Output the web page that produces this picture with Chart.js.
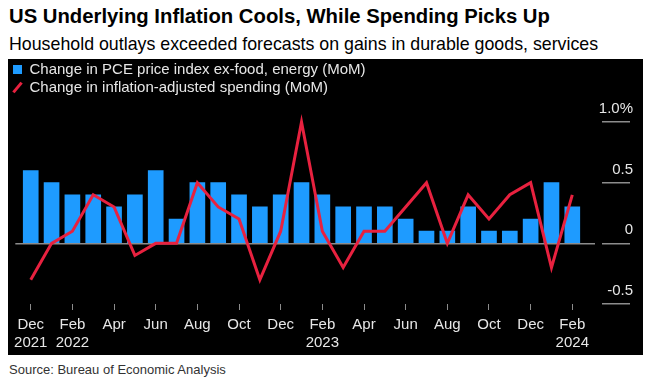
<!DOCTYPE html>
<html>
<head>
<meta charset="utf-8">
<script src="https://cdn.jsdelivr.net/npm/chart.js@4"></script>
<style>
  html, body { margin: 0; padding: 0; background: #fff; }
  body { width: 651px; height: 386px; position: relative; font-family: "Liberation Sans", Arial, sans-serif; }
  #title { position: absolute; left: 9px; top: 5px; font-size: 20.3px; font-weight: bold; color: #000; white-space: nowrap; }
  #subtitle { position: absolute; left: 9px; top: 34px; font-size: 17.8px; color: #000; white-space: nowrap; }
  #panel { position: absolute; left: 8px; top: 59px; width: 635px; height: 296px; background: #000; }
  #source { position: absolute; left: 9px; top: 362px; font-size: 13px; color: #333; white-space: nowrap; }
</style>
</head>
<body>
<div id="title">US Underlying Inflation Cools, While Spending Picks Up</div>
<div id="subtitle">Household outlays exceeded forecasts on gains in durable goods, services</div>
<div id="panel"><canvas id="pce" width="635" height="296"></canvas></div>
<div id="source">Source: Bureau of Economic Analysis</div>
<script>
const MONTHS = ['Dec 2021', 'Jan 2022', 'Feb 2022', 'Mar 2022', 'Apr 2022', 'May 2022', 'Jun 2022', 'Jul 2022',
  'Aug 2022', 'Sep 2022', 'Oct 2022', 'Nov 2022', 'Dec 2022', 'Jan 2023', 'Feb 2023', 'Mar 2023', 'Apr 2023',
  'May 2023', 'Jun 2023', 'Jul 2023', 'Aug 2023', 'Sep 2023', 'Oct 2023', 'Nov 2023', 'Dec 2023', 'Jan 2024', 'Feb 2024']
const CORE_PCE = [0.6, 0.5, 0.4, 0.4, 0.3, 0.4, 0.6, 0.2, 0.5, 0.5, 0.4, 0.3, 0.4, 0.5, 0.4, 0.3, 0.3, 0.3, 0.2, 0.1, 0.1, 0.3, 0.1, 0.1, 0.2, 0.5, 0.3]
const REAL_SPENDING = [-0.3, 0.0, 0.1, 0.4, 0.3, -0.1, 0.0, 0.0, 0.5, 0.3, 0.2, -0.3, 0.1, 1.0, 0.1, -0.2, 0.1, 0.1, 0.3, 0.5, 0.0, 0.4, 0.2, 0.4, 0.5, -0.2, 0.4]
const X_TICKS = {0: ['Dec', '2021'], 2: ['Feb', '2022'], 4: 'Apr', 6: 'Jun', 8: 'Aug', 10: 'Oct', 12: 'Dec',
  14: ['Feb', '2023'], 16: 'Apr', 18: 'Jun', 20: 'Aug', 22: 'Oct', 24: 'Dec', 26: ['Feb', '2024']}
const Y_TICKS = [-0.5, 0, 0.5, 1.0]

const COLORS = {
  blue: '#1e9bff',
  red: '#e8213f',
  grid: '#8c8c8c',
  text: '#e6e6e6'
}
const FONT = '"Liberation Sans", Arial, sans-serif'

var pceData = {
  datasets: [{
    type: 'bar',
    label: 'Change in PCE price index ex-food, energy (MoM)',
    data: CORE_PCE.map((v, i) => ({x: i, y: v})),
    backgroundColor: COLORS.blue,
    borderWidth: 0,
    barThickness: 15,
    order: 2
  }, {
    type: 'line',
    label: 'Change in inflation-adjusted spending (MoM)',
    data: REAL_SPENDING.map((v, i) => ({x: i, y: v})),
    borderColor: COLORS.red,
    backgroundColor: COLORS.red,
    borderWidth: 3,
    pointRadius: 0,
    pointRotation: -50,
    tension: 0,
    clip: false,
    order: 1
  }]
}

var pceOptions = {
  responsive: false,
  animation: false,
  layout: {
    padding: {left: 2, right: 10, top: 0, bottom: 0}
  },
  scales: {
    x: {
      type: 'linear',
      offset: false,
      min: -0.74,
      max: 27.09,
      afterBuildTicks: (scale) => {
        scale.ticks = Object.keys(X_TICKS).map(k => ({value: Number(k)}))
      },
      afterFit: (scale) => {
        scale.height = 51
      },
      border: {display: false},
      grid: {
        offset: false,
        drawOnChartArea: false,
        tickLength: 6,
        tickColor: COLORS.grid,
        tickWidth: 1
      },
      ticks: {
        color: COLORS.text,
        padding: 6,
        maxRotation: 0,
        autoSkip: false,
        font: {family: FONT, size: 15, lineHeight: 1.2},
        callback: (value) => X_TICKS[value]
      }
    },
    y: {
      position: 'right',
      min: -0.5,
      max: 1.14,
      afterBuildTicks: (scale) => {
        scale.ticks = Y_TICKS.map(v => ({value: v}))
      },
      afterFit: (scale) => {
        scale.width = 38
      },
      border: {display: false},
      grid: {
        color: (ctx) => ctx.tick && ctx.tick.value === 0 ? COLORS.grid : 'rgba(0,0,0,0)',
        lineWidth: 1.5,
        tickLength: 35,
        tickColor: COLORS.grid,
        tickWidth: 1.5,
        tickBorderDash: [0, 7, 28, 40]
      },
      ticks: {
        color: COLORS.text,
        padding: 0,
        crossAlign: 'far',
        labelOffset: -13,
        font: {family: FONT, size: 15},
        callback: (value) => value === 1 ? '1.0%' : String(value)
      }
    }
  },
  plugins: {
    legend: {
      display: true,
      position: 'top',
      align: 'start',
      labels: {
        color: COLORS.text,
        usePointStyle: true,
        boxWidth: 9,
        boxHeight: 9,
        padding: 3,
        font: {family: FONT, size: 15},
        sort: (a, b) => a.datasetIndex - b.datasetIndex,
        generateLabels: (chart) => {
          const items = Chart.defaults.plugins.legend.labels.generateLabels(chart)
          items.forEach(item => {
            if (item.datasetIndex === 0) {
              item.pointStyle = 'rect'
              item.rotation = 0
            } else {
              item.pointStyle = 'line'
              item.rotation = -50
              item.lineWidth = 3
            }
          })
          return items
        }
      }
    },
    tooltip: {enabled: false}
  }
}

var pceCtx = document.getElementById('pce')

var pceConfig = {
  data: pceData,
  options: pceOptions
}

const pceChart = new Chart(pceCtx, pceConfig)
</script>
</body>
</html>
